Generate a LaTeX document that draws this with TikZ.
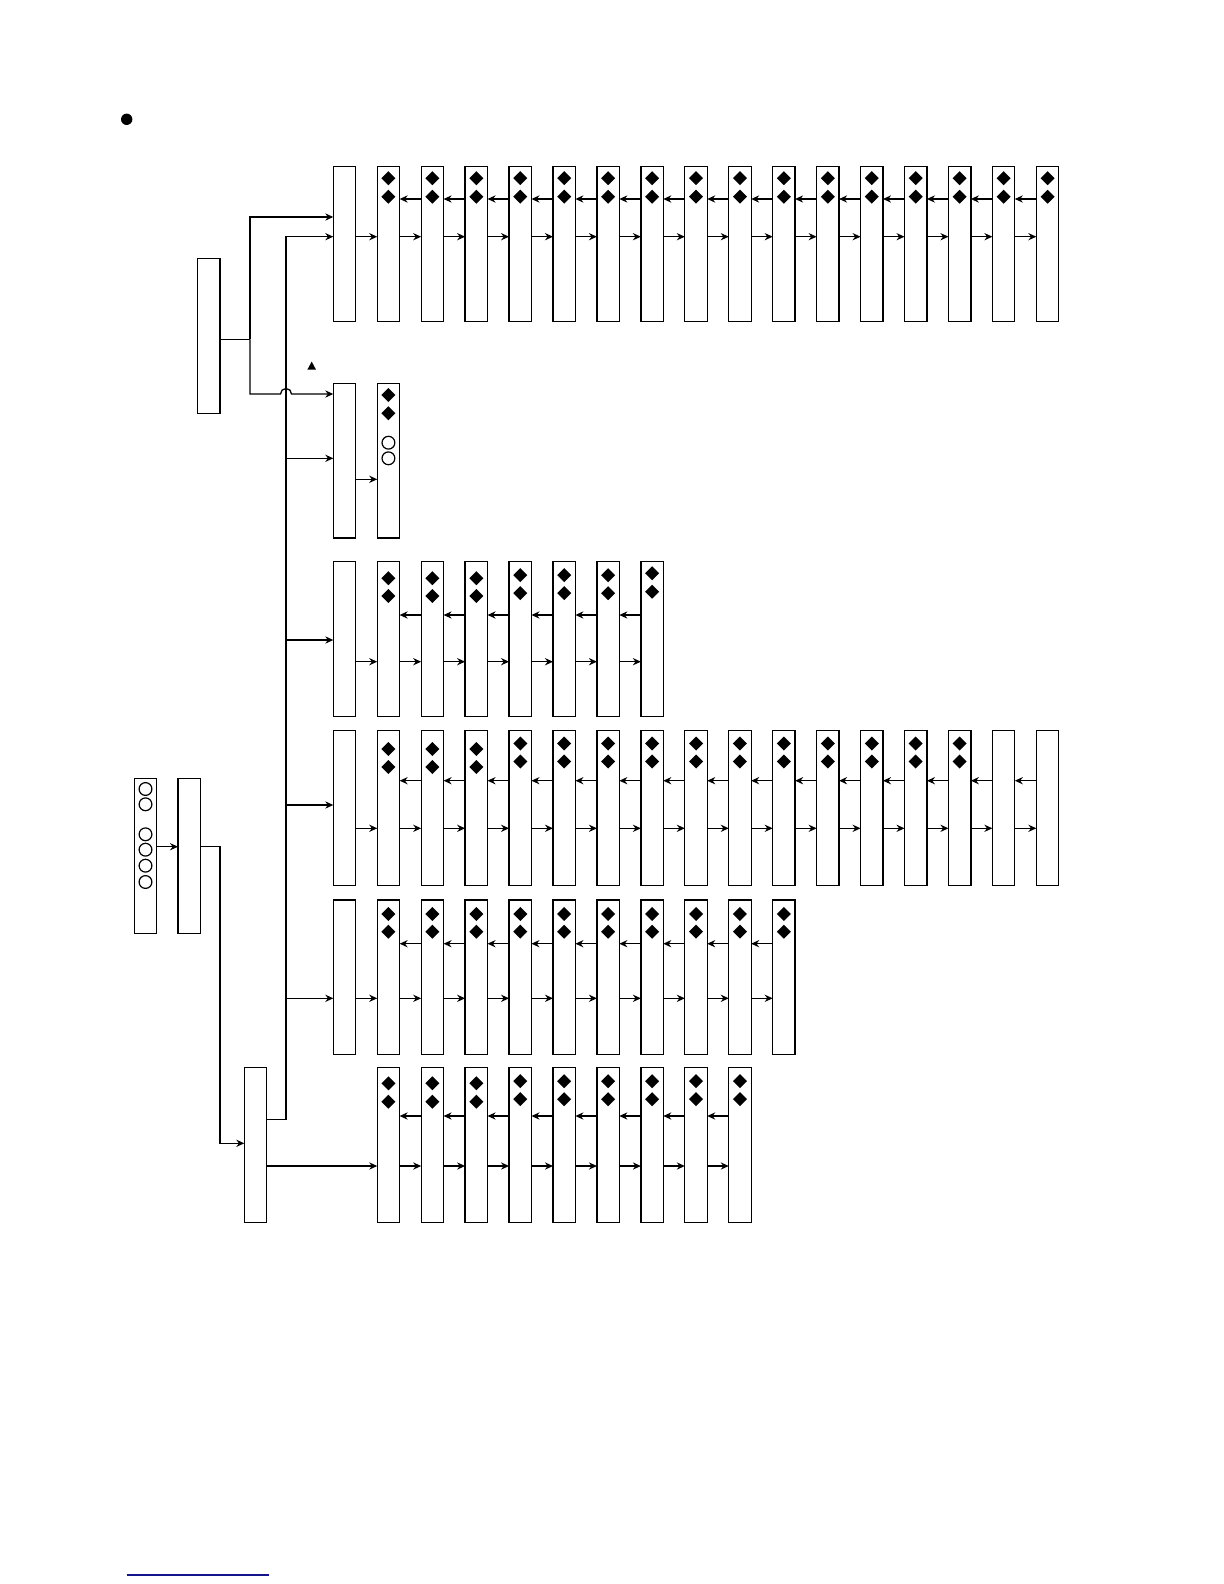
\documentclass[tikz,border=0pt]{standalone}
\usetikzlibrary{arrows.meta,calc}
\definecolor{navyline}{RGB}{20,20,140}
\newcommand\mydia[2]{\fill ($(#1.north)+(0,#2)$) ++(0,-7) -- ++(7,7) -- ++(-7,7) -- ++(-7,-7) -- cycle;}
\newcommand\mycirc[2]{\draw[line width=0.6pt] ($(#1.north)+(0,#2)$) circle[radius=6.4];}
\begin{document}
\begin{tikzpicture}[x=0.5pt,y=-0.5pt,
  box/.style={draw=black,fill=white,line width=0.65pt,minimum width=11.2pt,minimum height=77.3pt,inner sep=0pt,outer sep=0pt,anchor=north west},
  arr/.style={draw=black,line width=0.65pt,-{Stealth[length=4pt,width=3.6pt,inset=1.3pt]}},
  ln/.style={draw=black,line width=0.65pt}]
\fill[white] (0,0) rectangle (1224,1584);
\useasboundingbox (0,0) rectangle (1224,1584);

% bullet, triangle, bottom rule
\fill (126.7,119.3) circle[radius=5.7];
\fill (311.7,361.6) -- (316,369.6) -- (307.4,369.6) -- cycle;
\draw[navyline,line width=0.6pt] (126.7,1575) -- (269,1575);

% left boxes
\node[box] (tl) at (197.7,258.7) {};
\node[box] (cb) at (134.3,778.7) {};
\node[box] (mb) at (178,778.7) {};
\node[box] (bl) at (244.3,1067.7) {};
\foreach \y in {10.3,25.6,55.6,71,87,103.3} {\mycirc{cb}{\y}}

% row 1
\foreach \c in {0,...,16} {\node[box] (r1c\c) at ({333.3+\c*43.94},166.7) {};}
\foreach \c in {1,...,16} {\mydia{r1c\c}{11.5}\mydia{r1c\c}{30}}
\foreach \c [evaluate=\c as \n using int(\c+1)] in {0,...,15} {\draw[arr] ($(r1c\c.north east)+(0,70)$) -- ($(r1c\n.north west)+(0,70)$);}
\foreach \c [evaluate=\c as \n using int(\c+1)] in {1,...,15} {\draw[arr] ($(r1c\n.north west)+(0,32.3)$) -- ($(r1c\c.north east)+(0,32.3)$);}

% row 2
\foreach \c in {0,1} {\node[box] (r2c\c) at ({333.3+\c*43.94},383.3) {};}
\mydia{r2c1}{11.7}\mydia{r2c1}{30}
\mycirc{r2c1}{59.4}\mycirc{r2c1}{75}
\draw[arr] ($(r2c0.north east)+(0,96)$) -- ($(r2c1.north west)+(0,96)$);

% row 3
\foreach \c in {0,...,7} {\node[box] (r3c\c) at ({333.3+\c*43.94},561.7) {};}
\foreach \c in {1,2,3} {\mydia{r3c\c}{16.5}\mydia{r3c\c}{34.3}}
\foreach \c in {4,5,6} {\mydia{r3c\c}{13.5}\mydia{r3c\c}{31.5}}
\mydia{r3c7}{11.6}\mydia{r3c7}{30}
\foreach \c [evaluate=\c as \n using int(\c+1)] in {0,...,6} {\draw[arr] ($(r3c\c.north east)+(0,100)$) -- ($(r3c\n.north west)+(0,100)$);}
\foreach \c [evaluate=\c as \n using int(\c+1)] in {1,...,6} {\draw[arr] ($(r3c\n.north west)+(0,53.3)$) -- ($(r3c\c.north east)+(0,53.3)$);}

% row 4
\foreach \c in {0,...,16} {\node[box] (r4c\c) at ({333.3+\c*43.94},730.7) {};}
\foreach \c in {1,2,3} {\mydia{r4c\c}{18.3}\mydia{r4c\c}{36.3}}
\foreach \c in {4,...,14} {\mydia{r4c\c}{12.8}\mydia{r4c\c}{30.8}}
\foreach \c [evaluate=\c as \n using int(\c+1)] in {0,...,15} {\draw[arr] ($(r4c\c.north east)+(0,97.6)$) -- ($(r4c\n.north west)+(0,97.6)$);}
\foreach \c [evaluate=\c as \n using int(\c+1)] in {1,...,15} {\draw[arr] ($(r4c\n.north west)+(0,50)$) -- ($(r4c\c.north east)+(0,50)$);}

% row 5
\foreach \c in {0,...,10} {\node[box] (r5c\c) at ({333.3+\c*43.94},900) {};}
\foreach \c in {1,...,10} {\mydia{r5c\c}{14}\mydia{r5c\c}{31.7}}
\foreach \c [evaluate=\c as \n using int(\c+1)] in {0,...,9} {\draw[arr] ($(r5c\c.north east)+(0,98.3)$) -- ($(r5c\n.north west)+(0,98.3)$);}
\foreach \c [evaluate=\c as \n using int(\c+1)] in {1,...,9} {\draw[arr] ($(r5c\n.north west)+(0,43.7)$) -- ($(r5c\c.north east)+(0,43.7)$);}

% row 6
\foreach \c in {1,...,9} {\node[box] (r6c\c) at ({333.3+\c*43.94},1067.7) {};}
\foreach \c in {1,2,3} {\mydia{r6c\c}{15.6}\mydia{r6c\c}{34}}
\foreach \c in {4,...,9} {\mydia{r6c\c}{13.5}\mydia{r6c\c}{31.5}}
\foreach \c [evaluate=\c as \n using int(\c+1)] in {1,...,8} {\draw[arr] ($(r6c\c.north east)+(0,98.3)$) -- ($(r6c\n.north west)+(0,98.3)$);}
\foreach \c [evaluate=\c as \n using int(\c+1)] in {1,...,8} {\draw[arr] ($(r6c\n.north west)+(0,48.3)$) -- ($(r6c\c.north east)+(0,48.3)$);}

% trunk connectors
\coordinate (jA) at (250,339.3);
\coordinate (vx) at (286,0);
\coordinate (jmp) at (286,394);
\coordinate (r1in) at ($(r1c0.north west)+(0,70)$);
\coordinate (r2in) at ($(r2c0.north west)+(0,75)$);
\coordinate (r3in) at ($(r3c0.north west)+(0,78.3)$);
\coordinate (r4in) at ($(r4c0.north west)+(0,74.3)$);
\coordinate (r5in) at ($(r5c0.north west)+(0,98.3)$);

\draw[ln] ($(tl.north east)+(0,80.6)$) -- (jA);
\draw[arr] (jA) |- ($(r1c0.north west)+(0,50.3)$);
\draw[arr] (jA) |- ($(jmp)+(-5.5,0)$) arc[start angle=180,end angle=360,radius=5.5] -- ($(r2c0.north west)+(0,10.7)$);

\draw[arr] ($(bl.north east)+(0,51.6)$) -| (vx |- r1in) -- (r1in);
\foreach \p in {r2in,r3in,r4in,r5in} {\draw[arr] (vx |- \p) -- (\p);}

\draw[arr] ($(cb.north east)+(0,68)$) -- ($(mb.north west)+(0,68)$);
\draw[arr] ($(mb.north east)+(0,68)$) -| ($(bl.north west)+(-24.3,75.6)$) -- ($(bl.north west)+(0,75.6)$);
\draw[arr] ($(bl.north east)+(0,98.3)$) -- ($(r6c1.north west)+(0,98.3)$);
\end{tikzpicture}
\end{document}
